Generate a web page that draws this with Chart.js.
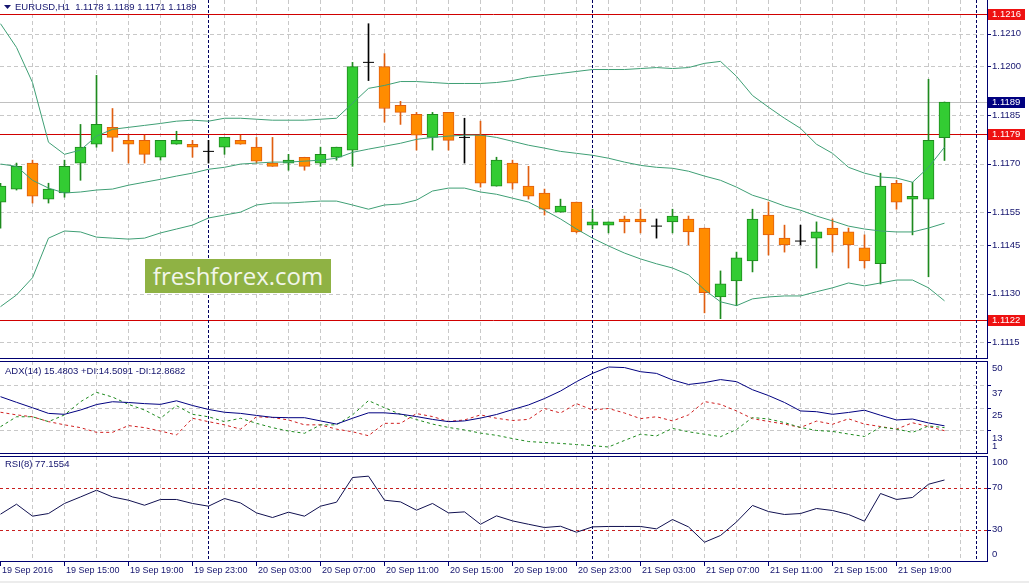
<!DOCTYPE html>
<html>
<head>
<meta charset="utf-8">
<title>EURUSD H1</title>
<script src="https://cdn.jsdelivr.net/npm/chart.js@4.4.1/dist/chart.umd.min.js"></script>
<style>
  html, body { margin: 0; padding: 0; background: #ffffff; }
  #wrap { position: relative; width: 1029px; height: 583px; overflow: hidden; background: #ffffff; }
  #wrap canvas { position: absolute; left: 0; }
  #main-pane { top: 0; }
  #adx-pane { top: 361px; }
  #rsi-pane { top: 456px; }
  #strip { position: absolute; left: 0; bottom: 0; width: 1029px; height: 2px; background: #ececec; }
  #logo {
    position: absolute; left: 145px; top: 259px; width: 186px; height: 34px;
    background: #8fb244; color: #f2f6ea; text-align: center;
    font: 24px "Open Sans", "Noto Sans", sans-serif; line-height: 34px;
  }
</style>
</head>
<body>
<div id="wrap">
  <canvas id="main-pane" width="1029" height="360"></canvas>
  <canvas id="adx-pane" width="1029" height="93"></canvas>
  <canvas id="rsi-pane" width="1029" height="127"></canvas>
  <div id="logo">freshforex.com</div>
  <div id="strip"></div>
</div>
<script>
// ---- data: EURUSD H1, 19 Sep 11:00 .. 21 Sep 22:00 (one slot per hour) ----
const candleOpen = [1.11582,1.11622,1.11702,1.11591,1.11610,1.11702,1.11760,1.11812,1.11772,1.11772,
  1.11720,1.11760,1.11760,1.11738,1.11751,1.11772,1.11751,1.11702,1.11702,1.11720,
  1.11702,1.11720,1.11742,1.12012,1.11999,1.11880,1.11852,1.11781,1.11858,1.11781,
  1.11788,1.11631,1.11702,1.11631,1.11610,1.11551,1.11582,1.11511,1.11511,1.11530,
  1.11530,1.11508,1.11521,1.11530,1.11502,1.11290,1.11339,1.11401,1.11542,1.11471,
  1.11462,1.11471,1.11502,1.11490,1.11441,1.11392,1.11640,1.11591,1.11591,1.11780];
const candleHigh = [1.11640,1.11702,1.11711,1.11640,1.11711,1.11821,1.11972,1.11870,1.11788,1.11788,
  1.11772,1.11800,1.11772,1.11772,1.11781,1.11788,1.11781,1.11781,1.11729,1.11720,
  1.11751,1.11751,1.12012,1.12131,1.12039,1.11892,1.11858,1.11858,1.11858,1.11840,
  1.11831,1.11720,1.11711,1.11692,1.11622,1.11591,1.11582,1.11560,1.11521,1.11539,
  1.11560,1.11530,1.11560,1.11539,1.11502,1.11370,1.11428,1.11560,1.11582,1.11511,
  1.11511,1.11521,1.11530,1.11502,1.11481,1.11671,1.11649,1.11643,1.11960,1.11890];
const candleLow = [1.11502,1.11619,1.11579,1.11579,1.11597,1.11649,1.11751,1.11738,1.11702,1.11702,
  1.11711,1.11760,1.11720,1.11702,1.11729,1.11760,1.11702,1.11692,1.11680,1.11680,
  1.11692,1.11711,1.11692,1.11956,1.11828,1.11821,1.11742,1.11742,1.11742,1.11702,
  1.11628,1.11631,1.11622,1.11591,1.11542,1.11551,1.11487,1.11499,1.11487,1.11487,
  1.11487,1.11471,1.11487,1.11450,1.11241,1.11223,1.11263,1.11367,1.11419,1.11428,
  1.11450,1.11379,1.11428,1.11379,1.11379,1.11330,1.11560,1.11481,1.11352,1.11710];
const candleClose = [1.11631,1.11692,1.11600,1.11622,1.11692,1.11751,1.11821,1.11781,1.11760,1.11729,
  1.11772,1.11772,1.11751,1.11738,1.11781,1.11760,1.11708,1.11692,1.11711,1.11692,
  1.11729,1.11751,1.11999,1.12012,1.11870,1.11858,1.11788,1.11852,1.11772,1.11781,
  1.11640,1.11711,1.11640,1.11600,1.11560,1.11570,1.11490,1.11521,1.11521,1.11521,
  1.11521,1.11508,1.11539,1.11490,1.11303,1.11330,1.11410,1.11530,1.11481,1.11450,
  1.11462,1.11490,1.11481,1.11450,1.11401,1.11631,1.11582,1.11600,1.11772,1.11890];

// Bollinger bands
const bbUpper = [1.12131,1.12058,1.11950,1.11766,1.11729,1.11742,1.11785,1.11806,1.11812,1.11818,
  1.11824,1.11831,1.11834,1.11831,1.11840,1.11840,1.11837,1.11834,1.11834,1.11834,
  1.11837,1.11840,1.11886,1.11932,1.11941,1.11953,1.11953,1.11950,1.11947,1.11947,
  1.11947,1.11950,1.11956,1.11966,1.11972,1.11978,1.11984,1.11990,1.11990,1.11990,
  1.11993,1.11996,1.11993,1.11996,1.12009,1.12015,1.11969,1.11910,1.11874,1.11840,
  1.11809,1.11760,1.11732,1.11689,1.11671,1.11659,1.11656,1.11643,1.11689,1.11751];
const bbMiddle = [1.11699,1.11692,1.11649,1.11625,1.11610,1.11613,1.11619,1.11622,1.11634,1.11643,
  1.11652,1.11662,1.11671,1.11683,1.11689,1.11699,1.11702,1.11705,1.11705,1.11708,
  1.11711,1.11717,1.11735,1.11745,1.11754,1.11763,1.11775,1.11781,1.11785,1.11788,
  1.11788,1.11781,1.11769,1.11757,1.11748,1.11738,1.11732,1.11726,1.11717,1.11705,
  1.11695,1.11689,1.11686,1.11677,1.11662,1.11649,1.11628,1.11603,1.11588,1.11570,
  1.11557,1.11539,1.11524,1.11508,1.11499,1.11493,1.11490,1.11490,1.11502,1.11517];
const bbLower = [1.11260,1.11296,1.11349,1.11471,1.11493,1.11490,1.11474,1.11471,1.11468,1.11471,
  1.11487,1.11499,1.11511,1.11533,1.11542,1.11551,1.11573,1.11579,1.11579,1.11582,
  1.11585,1.11585,1.11573,1.11560,1.11573,1.11576,1.11588,1.11616,1.11625,1.11625,
  1.11613,1.11606,1.11594,1.11582,1.11557,1.11530,1.11499,1.11471,1.11447,1.11425,
  1.11407,1.11392,1.11379,1.11358,1.11312,1.11275,1.11263,1.11284,1.11290,1.11293,
  1.11293,1.11306,1.11318,1.11333,1.11324,1.11333,1.11342,1.11342,1.11318,1.11278];

// ADX(14)
const adxLine = [31.0,28.0,25.1,22.1,21.6,23.9,26.8,28.3,27.9,27.3,
  26.9,28.8,26.3,24.2,22.7,22.1,21.0,20.0,19.8,19.8,
  18.1,16.4,19.5,22.4,22.4,21.7,20.4,18.9,17.7,18.1,
  19.6,21.5,24.1,26.6,30.0,34.0,39.0,43.4,46.8,46.5,
  44.3,43.4,39.9,37.5,38.5,40.1,39.0,34.7,31.6,27.9,
  23.4,23.0,21.6,22.6,23.8,21.1,18.6,19.1,17.0,15.4803];
const plusDI = [15.0,20.3,20.3,17.7,21.3,28.3,33.3,30.8,26.9,23.9,
  19.5,26.2,21.6,20.3,17.7,19.5,16.8,14.5,12.7,11.5,
  16.0,16.0,21.3,28.9,25.1,21.6,18.8,16.4,14.6,13.3,
  11.6,10.4,8.7,7.1,6.6,6.1,5.5,4.9,4.2,7.7,
  11.0,10.1,14.1,12.3,11.0,9.7,13.5,19.9,19.1,17.2,
  14.6,13.0,12.5,11.1,9.8,14.8,13.7,12.0,15.4,14.5091];
const minusDI = [22.7,21.3,20.3,17.7,16.0,14.5,12.0,12.0,15.6,14.5,
  12.7,10.6,19.5,17.7,16.0,13.7,20.3,19.9,18.6,16.0,
  16.0,13.7,12.3,10.2,16.8,16.8,22.0,20.4,17.8,18.6,
  21.3,19.5,18.3,18.9,24.7,22.3,27.3,23.9,24.7,22.3,
  19.3,20.3,18.1,21.3,28.4,26.9,23.4,19.3,17.8,16.4,
  14.6,18.0,16.3,19.2,16.4,15.1,13.7,17.1,15.1,12.8682];

// RSI(8)
const rsiValues = [44.6,54.1,42.7,45.2,54.8,61.0,67.4,61.0,57.9,53.1,
  58.6,58.6,54.8,52.2,59.5,55.3,45.8,41.4,46.5,42.7,
  52.2,56.0,79.5,80.8,57.9,56.3,48.4,54.8,45.8,46.8,
  35.0,43.0,38.2,35.0,31.9,33.1,27.4,32.5,32.9,32.9,
  32.9,30.6,39.5,32.5,17.9,24.3,37.2,52.9,47.1,44.3,
  45.2,50.0,48.1,44.3,37.9,64.3,58.6,60.5,73.1,77.1554];

// axes, levels and labels
const priceTicks = [1.1210, 1.1200, 1.1185, 1.1170, 1.1155, 1.1145, 1.1130, 1.1115];
const priceLevels = [1.1216, 1.1179, 1.1122];
const adxTicks = [50, 37, 25, 13, 1];
const adxGrid = [37, 25, 13];
const rsiTicks = [100, 70, 30, 0];
const rsiLevels = [70, 30];
const timeLabels = ['19 Sep 2016', '19 Sep 15:00', '19 Sep 19:00', '19 Sep 23:00', '20 Sep 03:00',
  '20 Sep 07:00', '20 Sep 11:00', '20 Sep 15:00', '20 Sep 19:00', '20 Sep 23:00',
  '21 Sep 03:00', '21 Sep 07:00', '21 Sep 11:00', '21 Sep 15:00', '21 Sep 19:00'];
const labelEvery = 4;                 // one time label per 4 candles
const daySeparators = [13, 37, 61];   // 00:00 slots

// ---- look ----
const FONT = '"Liberation Sans", Arial, sans-serif';
const TEXT = '#14146e';
const FRAME = '#000070';
const GRID = '#c8c8c8';
const SEP = '#000060';
const RED = '#d00000';
const BULL = { fill: '#33cc33', edge: '#1e8a1e' };
const BEAR = { fill: '#ff8c00', edge: '#e05e10' };

const last = candleClose.length - 1;
const slots = candleClose.map((_, i) => i);
function kind(i) {
  if (candleClose[i] > candleOpen[i]) return 'up';
  if (candleClose[i] < candleOpen[i]) return 'down';
  return 'flat';
}
const fmt4 = v => v.toFixed(4);
const series = arr => arr.map((v, i) => ({ x: i, y: v }));

function xScale() {
  // 16 px per hour, candle centres on pixel centres
  return { type: 'linear', display: false, offset: false, min: -0.03125, max: -0.03125 + 987 / 16 };
}
const baseOptions = {
  responsive: false,
  animation: false,
  events: [],
  plugins: { legend: { display: false }, tooltip: { enabled: false } }
};

function crispX(chart, v) { return Math.floor(chart.scales.x.getPixelForValue(v)) + 0.5; }
function crispY(chart, v) { return Math.round(chart.scales.y.getPixelForValue(v)) + 0.5; }

// grid, level lines and period separators, drawn under the series
function drawBackdrop(chart, opts) {
  const { ctx, chartArea: a, scales: { x } } = chart;
  ctx.save();
  ctx.lineWidth = 1;
  ctx.strokeStyle = GRID;
  ctx.setLineDash([4, 3]);
  ctx.beginPath();
  for (let i = 2; i < x.max; i += 2) {
    const px = crispX(chart, i);
    ctx.moveTo(px, a.top); ctx.lineTo(px, a.bottom);
  }
  (opts.grid || []).forEach(v => {
    const py = crispY(chart, v);
    ctx.moveTo(a.left, py); ctx.lineTo(a.right, py);
  });
  ctx.stroke();
  (opts.levels || []).forEach(l => {
    ctx.strokeStyle = l.color;
    ctx.setLineDash(l.dash || []);
    ctx.beginPath();
    const py = crispY(chart, l.value);
    ctx.moveTo(a.left, py); ctx.lineTo(a.right, py);
    ctx.stroke();
  });
  ctx.strokeStyle = SEP;
  ctx.setLineDash([3, 2]);
  ctx.beginPath();
  daySeparators.forEach(i => {
    const px = crispX(chart, i);
    ctx.moveTo(px, a.top); ctx.lineTo(px, a.bottom);
  });
  ctx.stroke();
  ctx.restore();
}

// frame, right price axis, tags and the pane title
function drawFront(chart, opts) {
  const { ctx, chartArea: a, scales: { y } } = chart;
  ctx.save();
  ctx.strokeStyle = FRAME;
  ctx.lineWidth = 1;
  ctx.setLineDash([]);
  ctx.beginPath();
  if (opts.frameTop) { ctx.moveTo(0, a.top + 0.5); ctx.lineTo(a.right + 1, a.top + 0.5); }
  ctx.moveTo(0, a.bottom + 0.5); ctx.lineTo(a.right + 1, a.bottom + 0.5);
  ctx.moveTo(a.right + 0.5, a.top); ctx.lineTo(a.right + 0.5, a.bottom + 1);
  opts.ticks.forEach(v => {
    const py = crispY(chart, v);
    if (py > a.top + 1 && py < a.bottom) { ctx.moveTo(a.right + 1, py); ctx.lineTo(a.right + 4, py); }
  });
  ctx.stroke();

  ctx.font = '9.5px ' + FONT;
  ctx.textAlign = 'left';
  ctx.textBaseline = 'middle';
  ctx.fillStyle = TEXT;
  opts.ticks.forEach(v => {
    let ly = y.getPixelForValue(v) + (opts.labelShift || 0);
    ly = Math.max(a.top + 6, Math.min(a.bottom - 7, ly));
    ctx.fillText(opts.fmt(v), a.right + 5, ly);
  });
  (opts.tags || []).forEach(t => {
    const py = Math.round(y.getPixelForValue(t.value));
    ctx.fillStyle = t.bg;
    ctx.fillRect(a.right + 1, py - 5, 37, 11);
    ctx.fillStyle = '#ffffff';
    ctx.fillText(opts.fmt(t.value), a.right + 5, py + 0.5);
  });

  ctx.fillStyle = TEXT;
  if (opts.marker) {
    ctx.beginPath();
    ctx.moveTo(4, a.top + 5); ctx.lineTo(11, a.top + 5); ctx.lineTo(7.5, a.top + 9);
    ctx.closePath();
    ctx.fill();
  }
  ctx.fillText(opts.title, opts.titleX, a.top + opts.titleY);
  ctx.restore();
}

function drawTimeAxis(chart) {
  const { ctx, chartArea: a } = chart;
  ctx.save();
  ctx.strokeStyle = FRAME;
  ctx.lineWidth = 1;
  ctx.font = '9px ' + FONT;
  ctx.fillStyle = TEXT;
  ctx.textAlign = 'left';
  ctx.textBaseline = 'middle';
  timeLabels.forEach((label, k) => {
    const px = crispX(chart, k * labelEvery);
    ctx.beginPath();
    ctx.moveTo(px, a.bottom + 1); ctx.lineTo(px, a.bottom + 5);
    ctx.stroke();
    ctx.fillText(label, px + 1.5, a.bottom + 9.5);
  });
  ctx.restore();
}

function paneDecor(id, opts) {
  return {
    id: id,
    beforeDatasetsDraw(chart) { drawBackdrop(chart, opts); },
    afterDatasetsDraw(chart) {
      drawFront(chart, opts);
      if (opts.timeAxis) drawTimeAxis(chart);
    }
  };
}

// ---- main pane: candles + Bollinger bands ----
const bodySlots = slots.filter(i => kind(i) !== 'flat');
const dojiSlots = slots.filter(i => kind(i) === 'flat');
const bandLine = (data) => ({
  type: 'line', data: series(data), order: 0,
  borderColor: '#3f9f75', borderWidth: 1, pointRadius: 0, tension: 0
});

new Chart(document.getElementById('main-pane'), {
  type: 'bar',
  data: {
    datasets: [
      bandLine(bbUpper),
      bandLine(bbMiddle),
      bandLine(bbLower),
      {
        type: 'scatter', order: 1,
        data: dojiSlots.map(i => ({ x: i, y: candleOpen[i] })),
        pointStyle: 'line', pointRadius: 5.5, borderColor: '#000000', borderWidth: 1
      },
      {
        type: 'bar', order: 2, grouped: false,
        data: bodySlots.map(i => ({ x: i, y: [candleOpen[i], candleClose[i]] })),
        barThickness: 11, borderWidth: 1, borderSkipped: false,
        backgroundColor: c => (kind(c.raw.x) === 'up' ? BULL : BEAR).fill,
        borderColor: c => (kind(c.raw.x) === 'up' ? BULL : BEAR).edge
      },
      {
        type: 'bar', order: 3, grouped: false,
        data: slots.map(i => ({ x: i, y: [candleLow[i], candleHigh[i]] })),
        barThickness: 1, borderWidth: 0,
        backgroundColor: c => {
          const k = kind(c.raw.x);
          return k === 'up' ? BULL.edge : k === 'down' ? BEAR.edge : '#000000';
        }
      }
    ]
  },
  options: Object.assign({}, baseOptions, {
    layout: { autoPadding: false, padding: { left: 0, top: 0, right: 42, bottom: 2 } },
    scales: {
      x: xScale(),
      y: { type: 'linear', display: false, beginAtZero: false, min: 1.11102, max: 1.12204 }
    }
  }),
  plugins: [paneDecor('mainDecor', {
    grid: priceTicks,
    levels: [{ value: candleClose[last], color: '#c0c0c0' }]
      .concat(priceLevels.map(v => ({ value: v, color: RED }))),
    ticks: priceTicks,
    fmt: fmt4,
    tags: priceLevels.map(v => ({ value: v, bg: '#ee1111' }))
      .concat([{ value: candleClose[last], bg: '#000080' }]),
    marker: true,
    title: 'EURUSD,H1  ' + [candleOpen[last], candleHigh[last], candleLow[last], candleClose[last]].map(fmt4).join(' '),
    titleX: 15, titleY: 7.5
  })]
});

// ---- ADX pane ----
new Chart(document.getElementById('adx-pane'), {
  type: 'line',
  data: {
    datasets: [
      { data: series(adxLine), borderColor: '#000080', borderWidth: 1, pointRadius: 0, tension: 0 },
      { data: series(plusDI), borderColor: '#1e8a1e', borderWidth: 1, borderDash: [3, 3], pointRadius: 0, tension: 0 },
      { data: series(minusDI), borderColor: '#d02020', borderWidth: 1, borderDash: [3, 3], pointRadius: 0, tension: 0 }
    ]
  },
  options: Object.assign({}, baseOptions, {
    layout: { autoPadding: false, padding: { left: 0, top: 0, right: 42, bottom: 1 } },
    scales: { x: xScale(), y: { type: 'linear', display: false, min: 1, max: 50 } }
  }),
  plugins: [paneDecor('adxDecor', {
    grid: adxGrid,
    ticks: adxTicks,
    fmt: v => String(v),
    labelShift: 7.5,
    frameTop: true,
    title: 'ADX(14) ' + adxLine[last].toFixed(4) + ' +DI:' + plusDI[last].toFixed(4) + ' -DI:' + minusDI[last].toFixed(4),
    titleX: 5, titleY: 10
  })]
});

// ---- RSI pane ----
new Chart(document.getElementById('rsi-pane'), {
  type: 'line',
  data: {
    datasets: [
      { data: series(rsiValues), borderColor: '#101050', borderWidth: 1, pointRadius: 0, tension: 0 }
    ]
  },
  options: Object.assign({}, baseOptions, {
    layout: { autoPadding: false, padding: { left: 0, top: 0, right: 42, bottom: 22 } },
    scales: { x: xScale(), y: { type: 'linear', display: false, min: 0, max: 100 } }
  }),
  plugins: [paneDecor('rsiDecor', {
    levels: rsiLevels.map(v => ({ value: v, color: '#c81e1e', dash: [3, 3] })),
    ticks: rsiTicks,
    fmt: v => String(v),
    frameTop: true,
    timeAxis: true,
    title: 'RSI(8) ' + rsiValues[last].toFixed(4),
    titleX: 5, titleY: 8
  })]
});
</script>
</body>
</html>
